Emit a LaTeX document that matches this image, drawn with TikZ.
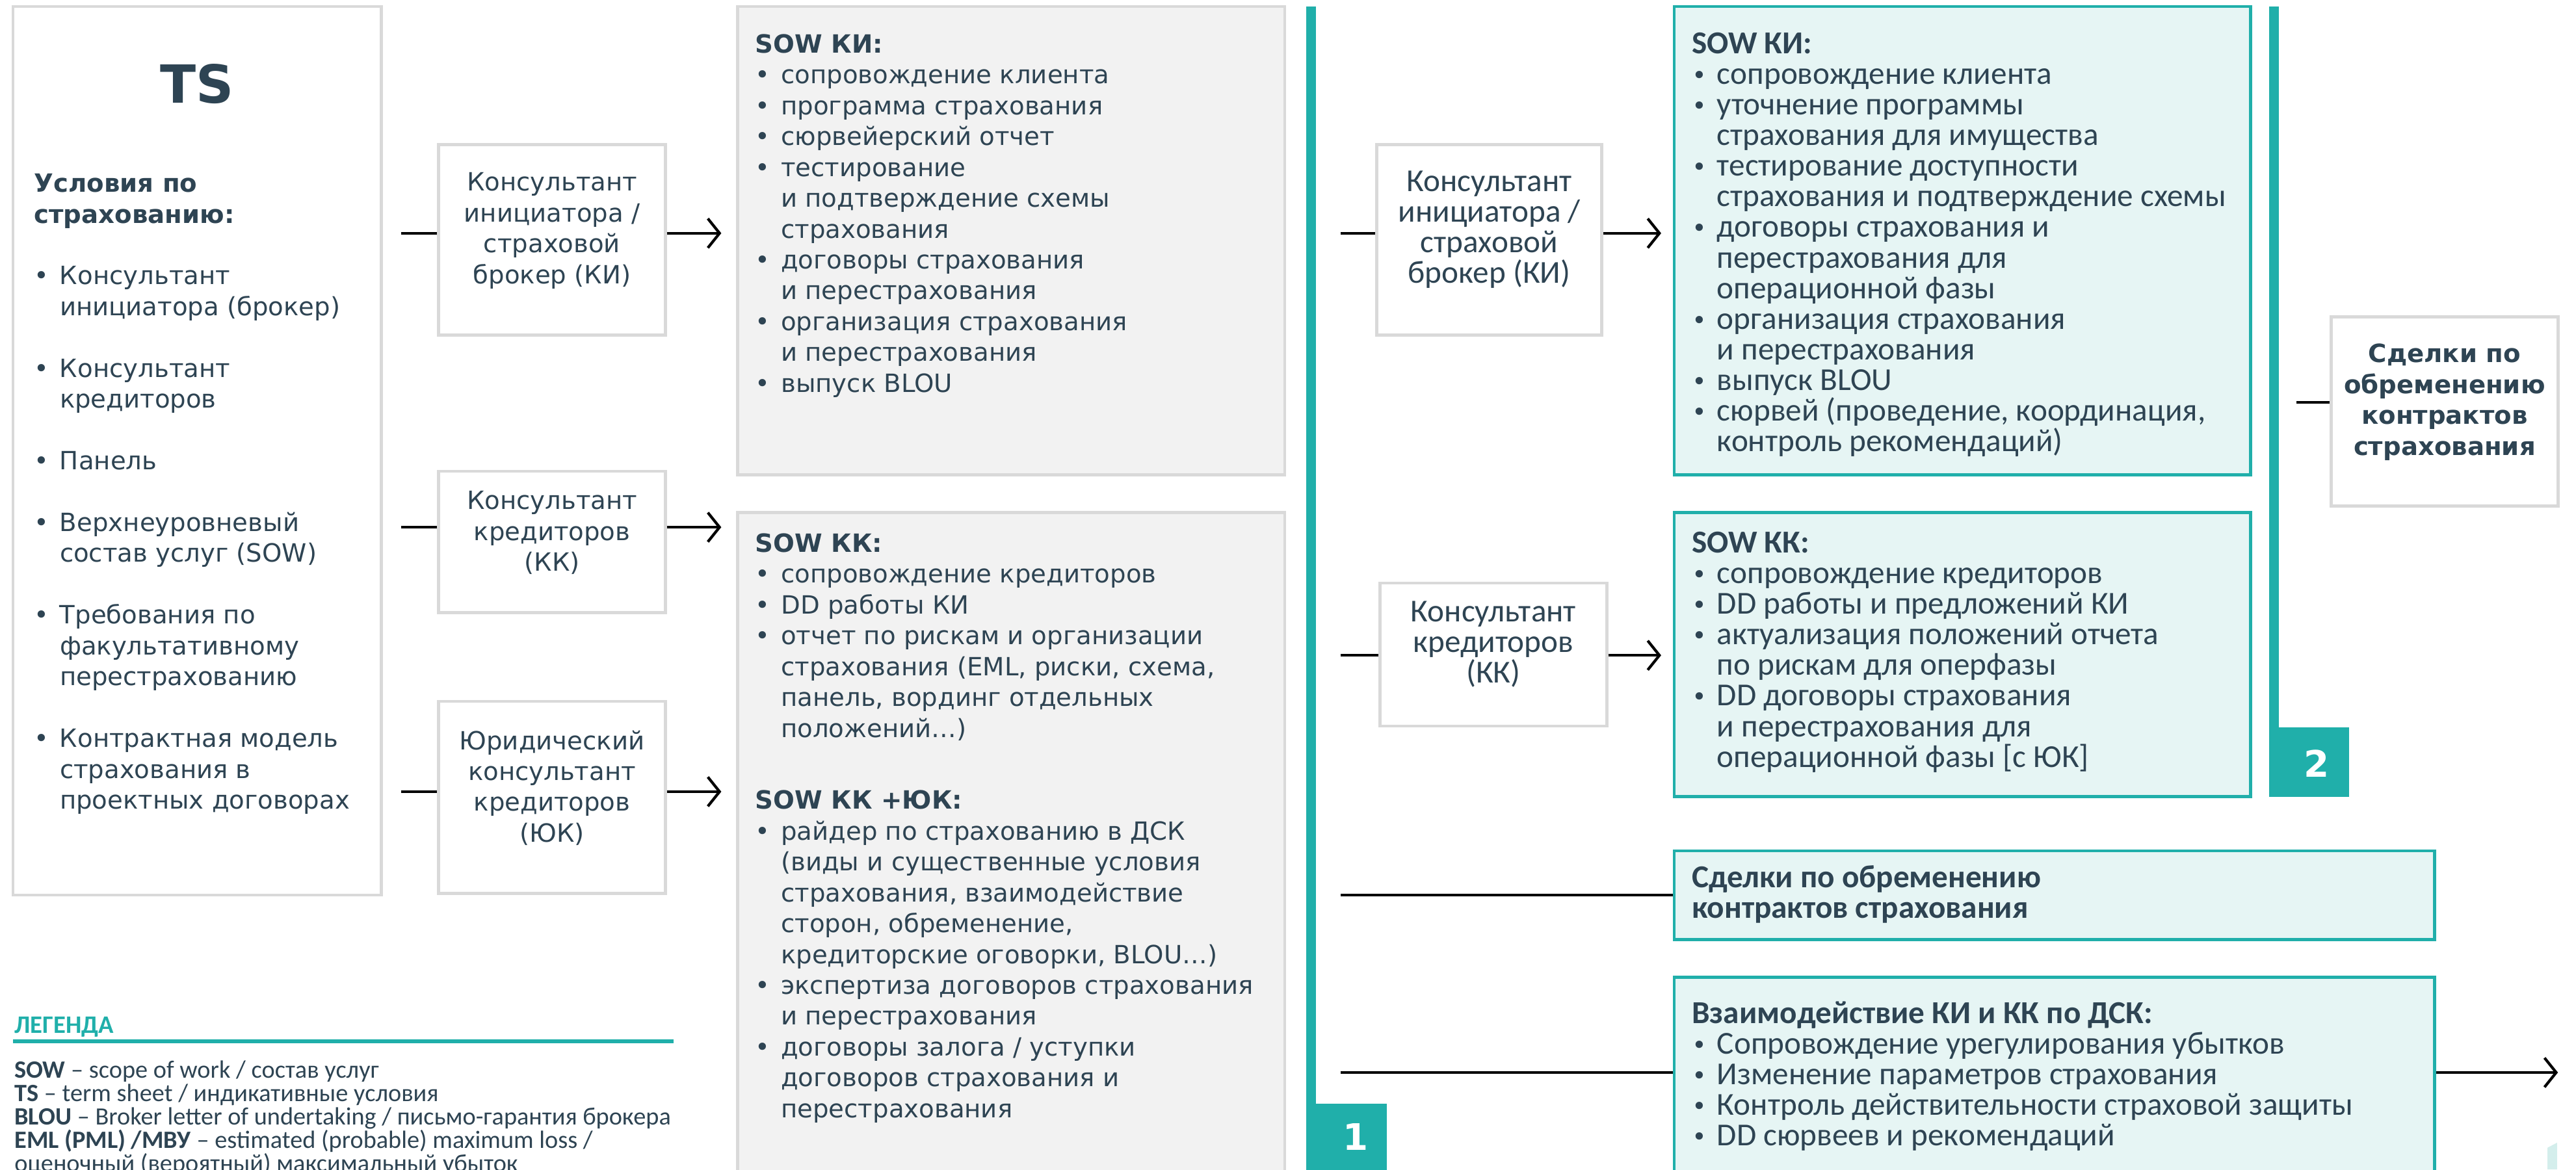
\documentclass[tikz,border=0pt]{standalone}
\usepackage{fontspec}
\setmainfont{DejaVu Sans}
\newfontfamily\narrowfont{Carlito}
\newfontfamily\dotfont{DejaVu Sans}
\usetikzlibrary{positioning,fit,arrows.meta}

\definecolor{ink}{HTML}{2E4453}
\definecolor{tealc}{HTML}{20AFAA}
\definecolor{tealbg}{HTML}{E6F5F4}
\definecolor{tealpale}{HTML}{D4EEEC}
\definecolor{greybg}{HTML}{F2F2F2}
\definecolor{greyline}{HTML}{D9D9D9}
\newcommand{\bul}{\makebox[11.2pt][l]{\textbullet}}
\newcommand{\indW}{\hspace*{11.2pt}}
\newcommand{\nbul}{\makebox[11pt][l]{\dotfont\fontsize{11}{11}\selectfont\textbullet}}
\newcommand{\indN}{\hspace*{11pt}}

\begin{document}
\begin{tikzpicture}[x=0.2527mm, y=-0.2527mm, line width=1.2pt,
    >={Straight Barb[length=1.8mm, width=4.5mm]},
    box/.style={draw=greyline, fill=white, line width=1.3pt, inner sep=0pt},
    grey box/.style={box, fill=greybg},
    teal box/.style={draw=tealc, fill=tealbg, line width=1.3pt, inner sep=0pt},
    wide text/.style={text=ink, align=center, font=\fontsize{11}{13.5}\selectfont},
    narrow text/.style={text=ink, align=center, font=\narrowfont\fontsize{14}{13.4}\selectfont},
    list/.style={anchor=north west, inner sep=0pt, align=left},
    num box/.style={fill=tealc, inner sep=0pt},
    num/.style={text=white, font=\bfseries\fontsize{16}{16}\selectfont}]

 \useasboundingbox (0,0) rectangle (1568,712);

 % term sheet column
 \node[box, fit={(8,4) (232,545)}] (ts) {};
 \node[text=ink, font=\bfseries\fontsize{23}{23}\selectfont] (tstitle) at (120,51) {TS};
 \node[list, wide text, align=left] (tslist) at (20,105) {\textbf{Условия по}\\
  \textbf{страхованию:}\\[13.5pt]
  \bul Консультант\\
  \indW инициатора (брокер)\\[13.5pt]
  \bul Консультант\\
  \indW кредиторов\\[13.5pt]
  \bul Панель\\[13.5pt]
  \bul Верхнеуровневый\\
  \indW состав услуг (SOW)\\[13.5pt]
  \bul Требования по\\
  \indW факультативному\\
  \indW перестрахованию\\[13.5pt]
  \bul Контрактная модель\\
  \indW страхования в\\
  \indW проектных договорах};

 % consultants
 \node[box, wide text, fit={(267,88) (405,204)}] (ki) {Консультант\\инициатора /\\страховой\\брокер (КИ)};
 \node[box, wide text, fit={(267,287) (405,373)}] (kk) {Консультант\\кредиторов\\(КК)};
 \node[box, wide text, fit={(267,427) (405,544)}] (yuk) {Юридический\\консультант\\кредиторов\\(ЮК)};

 % scope of work, stage 1
 \node[grey box, fit={(449,4) (782,289)}] (sowki) {};
 \node[grey box, fit={(449,312) (782,740)}] (sowkk) {};
 \node[list, wide text, align=left] (sowkitext) at (459,20) {\textbf{SOW КИ:}\\
  \bul сопровождение клиента\\
  \bul программа страхования\\
  \bul сюрвейерский отчет\\
  \bul тестирование\\
  \indW и подтверждение схемы\\
  \indW страхования\\
  \bul договоры страхования\\
  \indW и перестрахования\\
  \bul организация страхования\\
  \indW и перестрахования\\
  \bul выпуск BLOU};
 \node[list, wide text, align=left] (sowkktext) at (459,324) {\textbf{SOW КК:}\\
  \bul сопровождение кредиторов\\
  \bul DD работы КИ\\
  \bul отчет по рискам и организации\\
  \indW страхования (EML, риски, схема,\\
  \indW панель, вординг отдельных\\
  \indW положений…)\\[18pt]
  \textbf{SOW КК +ЮК:}\\
  \bul райдер по страхованию в ДСК\\
  \indW (виды и существенные условия\\
  \indW страхования, взаимодействие\\
  \indW сторон, обременение,\\
  \indW кредиторские оговорки, BLOU…)\\
  \bul экспертиза договоров страхования\\
  \indW и перестрахования\\
  \bul договоры залога / уступки\\
  \indW договоров страхования и\\
  \indW перестрахования};

 % stage markers
 \fill[tealc] (795,4) rectangle (801,672);
 \node[num box, fit={(795,672) (844,714)}] (sq1) {};
 \node[num] (one) at (825,692) {1};
 \fill[tealc] (1381,4) rectangle (1387,443);
 \node[num box, fit={(1381,443) (1430,485)}] (sq2) {};
 \node[num] (two) at (1410,465) {2};

 % stage 2
 \node[box, narrow text, fit={(838,88) (975,204)}] (ki2) {Консультант\\инициатора /\\страховой\\брокер (КИ)};
 \node[box, narrow text, fit={(840,355) (978,442)}] (kk2) {Консультант\\кредиторов\\(КК)};
 \node[teal box, fit={(1019,4) (1370,289)}] (sowki2) {};
 \node[teal box, fit={(1019,312) (1370,485)}] (sowkk2) {};
 \node[teal box, fit={(1019,518) (1482,572)}] (deals) {};
 \node[teal box, fit={(1019,595) (1482,740)}] (inter) {};
 \node[list, narrow text, align=left] (sowki2text) at (1029,19) {\textbf{SOW КИ:}\\
  \nbul сопровождение клиента\\
  \nbul уточнение программы\\
  \indN страхования для имущества\\
  \nbul тестирование доступности\\
  \indN страхования и подтверждение схемы\\
  \nbul договоры страхования и\\
  \indN перестрахования для\\
  \indN операционной фазы\\
  \nbul организация страхования\\
  \indN и перестрахования\\
  \nbul выпуск BLOU\\
  \nbul сюрвей (проведение, координация,\\
  \indN контроль рекомендаций)};
 \node[list, narrow text, align=left] (sowkk2text) at (1029,323) {\textbf{SOW КК:}\\
  \nbul сопровождение кредиторов\\
  \nbul DD работы и предложений КИ\\
  \nbul актуализация положений отчета\\
  \indN по рискам для оперфазы\\
  \nbul DD договоры страхования\\
  \indN и перестрахования для\\
  \indN операционной фазы [с ЮК]};
 \node[list, narrow text, align=left, font=\narrowfont\bfseries\fontsize{14}{13.4}\selectfont] (dealstext) at (1029,526) {Сделки по обременению\\контрактов страхования};
 \node[list, narrow text, align=left] (intertext) at (1029,609) {\textbf{Взаимодействие КИ и КК по ДСК:}\\
  \nbul Сопровождение урегулирования убытков\\
  \nbul Изменение параметров страхования\\
  \nbul Контроль действительности страховой защиты\\
  \nbul DD сюрвеев и рекомендаций};
 \node[box, wide text, font=\bfseries\fontsize{11}{13.5}\selectfont, fit={(1419,193) (1557,308)}] (dealsR) {Сделки по\\обременению\\контрактов\\страхования};
 \fill[tealpale] (1550.6,712) -- (1550.6,698.8) -- (1556.5,695.7) -- (1556.5,712) -- cycle;

 % legend
 \node[anchor=base west, inner sep=0pt, text=tealc, font=\narrowfont\bfseries\fontsize{11}{11}\selectfont] (legtitle) at (8,629) {ЛЕГЕНДА};
 \draw[tealc, line width=1.6pt] (8,634) -- (410,634);
 \node[list, text=ink, font=\narrowfont\fontsize{10.9}{10.25}\selectfont] (legend) at (8,645) {\textbf{SOW} – scope of work / состав услуг\\
  \textbf{TS} – term sheet / индикативные условия\\
  \textbf{BLOU} – Broker letter of undertaking / письмо-гарантия брокера\\
  \textbf{EML (PML) /МВУ} – estimated (probable) maximum loss /\\
  оценочный (вероятный) максимальный убыток};

 % connectors
 \coordinate (r1) at (244,142);
 \coordinate (r2) at (244,321);
 \coordinate (r3) at (244,482);
 \coordinate (s1) at (816,142);
 \coordinate (s2) at (816,399);
 \coordinate (s3) at (816,545);
 \coordinate (s4) at (816,653);
 \coordinate (s5) at (1398,245);
 \coordinate (out) at (1557,653);
\path
 (r1) edge (r1 -| ki.west)
 (r1 -| ki.east) edge [->, shorten >=6.5pt] (r1 -| sowki.west)
 (r2) edge (r2 -| kk.west)
 (r2 -| kk.east) edge [->, shorten >=6.5pt] (r2 -| sowkk.west)
 (r3) edge (r3 -| yuk.west)
 (r3 -| yuk.east) edge [->, shorten >=6.5pt] (r3 -| sowkk.west)
 (s1) edge (s1 -| ki2.west)
 (s1 -| ki2.east) edge [->, shorten >=5pt] (s1 -| sowki2.west)
 (s2) edge (s2 -| kk2.west)
 (s2 -| kk2.east) edge [->, shorten >=5pt] (s2 -| sowkk2.west)
 (s3) edge (s3 -| deals.west)
 (s4) edge (s4 -| inter.west)
 (s4 -| inter.east) edge [->] (out)
 (s5) edge (s5 -| dealsR.west);
\end{tikzpicture}
\end{document}
